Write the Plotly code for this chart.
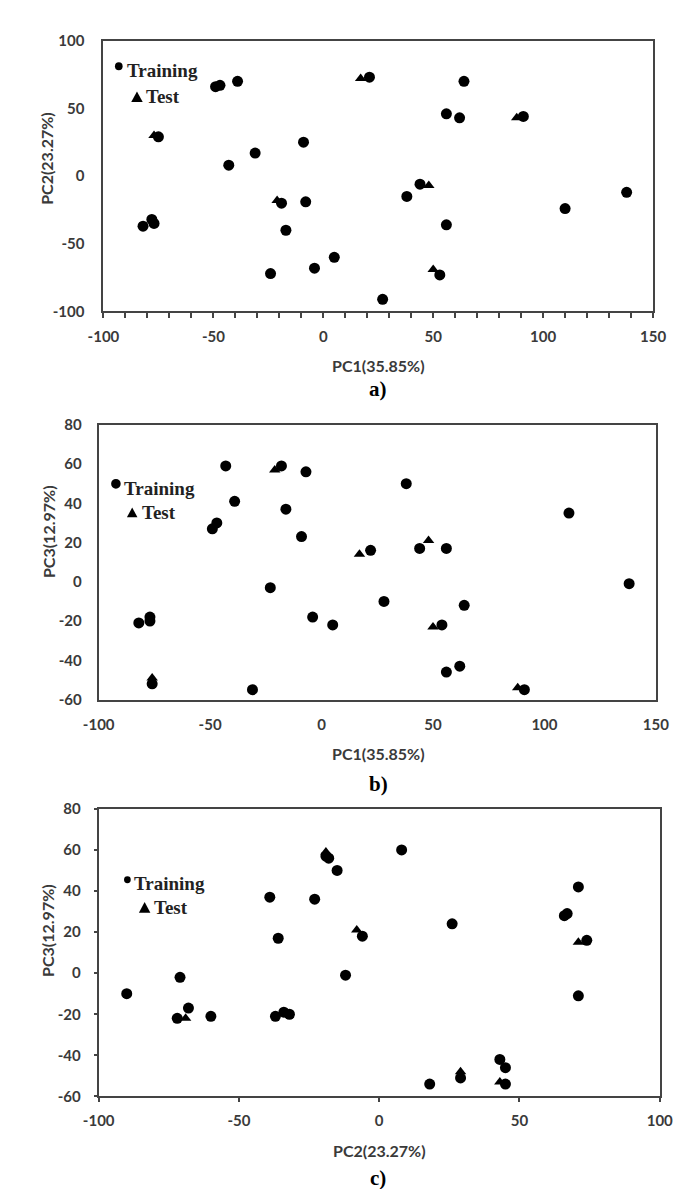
import plotly.graph_objects as go

W, H = 681, 1189

# ---------------- data ----------------
# Panel a: PC1 vs PC2
a_train_pc1 = [21, 64, -39, -49, -47, 56, 62, 91, -75, -9, -31, -43, 44, 138, 38, -19, -8, 110, -78, -77, -82, 56, -17, 5, -4, -24, 53, 27]
a_train_pc2 = [73, 70, 70, 66, 67, 46, 43, 44, 29, 25, 17, 8, -6, -12, -15, -20, -19, -24, -32, -35, -37, -36, -40, -60, -68, -72, -73, -91]
a_test_pc1 = [17, 88, -77, 48, -21, 50]
a_test_pc2 = [72, 43, 30, -7, -18, -69]

# Panel b: PC1 vs PC3
b_train_pc1 = [-43, -18, -7, 38, -39, -16, 111, -47, -49, -9, 44, 56, 22, 138, -23, 28, 64, -77, -77, -82, -4, 5, 54, 62, 56, -76, -31, 91]
b_train_pc3 = [59, 59, 56, 50, 41, 37, 35, 30, 27, 23, 17, 17, 16, -1, -3, -10, -12, -18, -20, -21, -18, -22, -22, -43, -46, -52, -55, -55]
b_test_pc1 = [-21, 48, 17, 50, -76, 88]
b_test_pc3 = [57, 21, 14, -23, -49, -54]

# Panel c: PC2 vs PC3
c_train_pc2 = [8, -19, -18, -15, 71, -39, -23, 66, 67, 26, -36, -6, 74, -12, -71, -90, 71, -68, -60, -72, -37, -34, -32, 43, 45, 18, 45, 29]
c_train_pc3 = [60, 57, 56, 50, 42, 37, 36, 28, 29, 24, 17, 18, 16, -1, -2, -10, -11, -17, -21, -22, -21, -19, -20, -42, -46, -54, -54, -51]
c_test_pc2 = [71, -8, -19, -69, 29, 43]
c_test_pc3 = [15, 21, 59, -22, -48, -53]

# tick values / labels
pc1_ticks = [-100, -50, 0, 50, 100, 150]
pc1_ticklabels = ["-100", "-50", "0", "50", "100", "150"]
pc2_ticks_a = [-100, -50, 0, 50, 100]
pc2_ticklabels_a = ["-100", "-50", "0", "50", "100"]
pc3_ticks = [-60, -40, -20, 0, 20, 40, 60, 80]
pc3_ticklabels = ["-60", "-40", "-20", "0", "20", "40", "60", "80"]
pc2_ticks_c = [-100, -50, 0, 50, 100]
pc2_ticklabels_c = ["-100", "-50", "0", "50", "100"]

x_titles = ["PC1(35.85%)", "PC1(35.85%)", "PC2(23.27%)"]
y_titles = ["PC2(23.27%)", "PC3(12.97%)", "PC3(12.97%)"]
panel_labels = ["a)", "b)", "c)"]
legend_labels = ["Training", "Test"]

# ---------------- layout helpers ----------------
def px(x):
    return x / W

def py(y):
    return 1 - y / H

# plot boxes in pixels: (left, right, top, bottom)
boxes = [(83, 657, 23, 298), (78, 660, 413, 692), (78, 664, 803, 1095)]

fig = go.Figure()

panels = [
    (a_train_pc1, a_train_pc2, a_test_pc1, a_test_pc2),
    (b_train_pc1, b_train_pc3, b_test_pc1, b_test_pc3),
    (c_train_pc2, c_train_pc3, c_test_pc2, c_test_pc3),
]

for i, (trx, try_, tex, tey) in enumerate(panels):
    xa = "x" if i == 0 else f"x{i+1}"
    ya = "y" if i == 0 else f"y{i+1}"
    fig.add_trace(go.Scatter(x=tex, y=tey, mode="markers", xaxis=xa, yaxis=ya,
                             marker=dict(symbol="triangle-up", size=10, color="black"),
                             showlegend=False, cliponaxis=False))
    fig.add_trace(go.Scatter(x=trx, y=try_, mode="markers", xaxis=xa, yaxis=ya,
                             marker=dict(symbol="circle", size=11, color="black"),
                             showlegend=False, cliponaxis=False))

tickfont = dict(family="Lato, Open Sans, sans-serif", size=15, color="#3a3a3a", weight="bold")
line = dict(showline=True, mirror=True, linecolor="#444444", linewidth=2,
            showgrid=False, zeroline=False)

layout = dict(width=W, height=H, autosize=False,
              margin=dict(l=0, r=0, t=0, b=0),
              paper_bgcolor="white", plot_bgcolor="white")

axes_spec = [
    ([-100, 150], pc1_ticks, pc1_ticklabels, [-100, 100], pc2_ticks_a, pc2_ticklabels_a),
    ([-100, 150], pc1_ticks, pc1_ticklabels, [-60, 80], pc3_ticks, pc3_ticklabels),
    ([-100, 100], pc2_ticks_c, pc2_ticklabels_c, [-60, 80], pc3_ticks, pc3_ticklabels),
]

for i, ((l, r, t, b), (xr, xtv, xtt, yr, ytv, ytt)) in enumerate(zip(boxes, axes_spec)):
    xkey = "xaxis" if i == 0 else f"xaxis{i+1}"
    ykey = "yaxis" if i == 0 else f"yaxis{i+1}"
    yanchor = "y" if i == 0 else f"y{i+1}"
    xanchor = "x" if i == 0 else f"x{i+1}"
    xax = dict(domain=[px(l), px(r)], range=xr, tickmode="array", tickvals=xtv, ticktext=xtt,
               anchor=yanchor, tickfont=tickfont, **line)
    yax = dict(domain=[py(b), py(t)], range=yr, tickmode="array", tickvals=ytv, ticktext=ytt,
               anchor=xanchor, tickfont=tickfont, **line)
    if i == 0:
        xax.update(ticks="outside", ticklen=5, tickwidth=1.5, tickcolor="#444444",
                   minor=dict(dtick=10, tick0=-100, ticks="outside", ticklen=5, tickwidth=1.5,
                              tickcolor="#444444"),
                   ticklabelstandoff=6)
        yax.update(ticks="", ticklabelstandoff=14)
    elif i == 1:
        xax.update(ticks="", ticklabelstandoff=10)
        yax.update(ticks="", ticklabelstandoff=12)
    else:
        xax.update(ticks="outside", ticklen=4, tickwidth=1.5, tickcolor="#444444", ticklabelstandoff=6)
        yax.update(ticks="outside", ticklen=3, tickwidth=1.5, tickcolor="#444444", ticklabelstandoff=10)
    layout[xkey] = xax
    layout[ykey] = yax

fig.update_layout(**layout)

title_font = dict(family="Lato, Open Sans, sans-serif", size=16, color="#3a3a3a", weight="bold")
label_font = dict(family="Liberation Serif, Times New Roman, serif", size=21, color="black", weight="bold")
legend_font = dict(family="Liberation Serif, Times New Roman, serif", size=19, color="#222222", weight="bold")

# axis titles and panel labels (pixel positions)
xt_pos = [(370, 353), (370, 747), (371, 1150)]
yt_pos = [(24, 142), (25, 521), (25, 926)]
lab_pos = [(370, 377), (370, 778), (370, 1178)]
for i in range(3):
    fig.add_annotation(x=px(xt_pos[i][0]), y=py(xt_pos[i][1]), xref="paper", yref="paper",
                       text=x_titles[i], showarrow=False, font=title_font,
                       xanchor="center", yanchor="middle")
    fig.add_annotation(x=px(yt_pos[i][0]), y=py(yt_pos[i][1]), xref="paper", yref="paper",
                       text=y_titles[i], showarrow=False, font=title_font, textangle=-90,
                       xanchor="center", yanchor="middle")
    fig.add_annotation(x=px(lab_pos[i][0]), y=py(lab_pos[i][1]), xref="paper", yref="paper",
                       text=panel_labels[i], showarrow=False, font=label_font,
                       xanchor="center", yanchor="middle")

# in-plot legends: (dot cx, cy, dot diameter, train text x, y, tri cx, cy, tri width, test text x, y)
legends = [
    (99, 49, 8, 106, 53, 118, 80, 12, 125, 80),
    (96, 473, 10, 102, 478, 113, 502, 11, 121, 502),
    (108, 875, 7, 113, 879, 126, 903, 12, 134, 903),
]
for (dcx, dcy, dd, tx1, ty1, tcx, tcy, tw, tx2, ty2) in legends:
    r = dd / 2
    fig.add_shape(type="circle", xref="paper", yref="paper",
                  x0=px(dcx - r), x1=px(dcx + r), y0=py(dcy + r), y1=py(dcy - r),
                  fillcolor="black", line=dict(width=0))
    h = tw * 0.9
    path = (f"M {px(tcx - tw/2)},{py(tcy + h/2)} L {px(tcx + tw/2)},{py(tcy + h/2)} "
            f"L {px(tcx)},{py(tcy - h/2)} Z")
    fig.add_shape(type="path", xref="paper", yref="paper", path=path,
                  fillcolor="black", line=dict(width=0))
    fig.add_annotation(x=px(tx1), y=py(ty1), xref="paper", yref="paper", text=legend_labels[0],
                       showarrow=False, font=legend_font, xanchor="left", yanchor="middle")
    fig.add_annotation(x=px(tx2), y=py(ty2), xref="paper", yref="paper", text=legend_labels[1],
                       showarrow=False, font=legend_font, xanchor="left", yanchor="middle")

fig.write_html("out.html")
